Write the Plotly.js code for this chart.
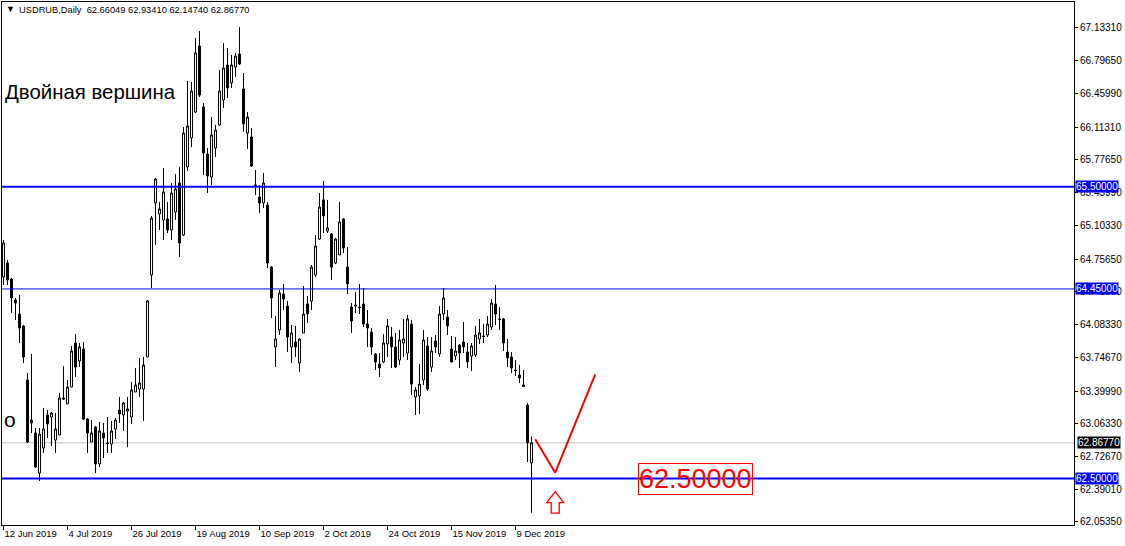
<!DOCTYPE html>
<html><head><meta charset="utf-8">
<script src="https://cdn.plot.ly/plotly-3.0.1.min.js"></script>
<style>html,body{margin:0;padding:0;background:#fff;}#chart{width:1125px;height:546px;}</style>
</head><body><div id="chart"></div>
<script>
// ---- data ----
const headerText = "USDRUB,Daily  62.66049 62.93410 62.14740 62.86770";
const openP = [64.573,64.717,64.552,64.336,64.192,64.069,63.514,63.102,62.969,62.557,
62.814,63.154,63.133,62.897,62.948,63.328,63.267,63.441,63.894,63.709,
63.832,63.112,62.876,63.030,62.650,62.969,62.866,62.855,63.010,63.205,
63.154,63.195,63.133,63.390,63.421,63.421,63.750,64.593,65.334,65.221,
65.159,65.169,65.056,65.241,65.539,65.004,65.704,66.002,66.269,66.948,
66.321,65.837,65.601,65.899,66.136,66.393,66.753,66.568,66.732,66.866,
66.506,66.053,66.012,65.519,65.395,65.334,65.313,64.675,63.853,64.028,
64.398,64.274,63.853,63.904,63.688,63.997,64.295,64.326,64.593,64.963,
65.365,65.046,65.015,64.717,64.799,65.169,64.675,64.264,64.285,64.264,
64.295,64.089,64.007,63.781,63.678,63.699,63.884,63.956,63.853,63.719,
63.894,63.791,64.089,63.339,63.349,63.514,63.863,63.647,63.914,63.781,
64.192,64.161,63.832,63.760,63.873,63.904,63.801,63.760,63.771,63.935,
63.966,63.976,64.058,64.295,64.141,64.141,63.801,63.750,63.616,63.565,
63.462,63.256,62.66049];
const highP = [64.953,64.747,64.562,64.357,64.388,64.079,63.585,63.781,63.020,63.020,
63.226,63.205,63.185,63.174,63.380,63.657,63.514,63.863,63.986,63.894,
63.904,63.123,63.102,63.041,63.082,63.071,63.133,63.092,63.123,63.339,
63.287,63.339,63.493,63.637,63.740,63.750,64.336,65.200,65.591,65.344,
65.693,65.344,65.539,65.632,65.704,66.115,66.588,66.578,67.030,67.102,
66.362,65.899,66.218,66.136,66.701,66.979,66.927,66.855,66.876,67.143,
66.670,66.269,66.105,65.673,65.519,65.642,65.344,64.686,64.172,64.439,
64.501,64.326,64.079,64.069,63.945,64.480,64.377,64.696,65.004,65.436,
65.560,65.365,65.025,64.974,65.344,65.179,64.881,64.305,64.418,64.501,
64.459,64.233,64.048,63.791,63.791,63.986,64.141,64.058,63.997,64.028,
64.141,64.182,64.130,63.441,63.678,64.028,63.956,63.956,63.976,64.274,
64.459,64.233,63.966,63.956,63.884,64.110,63.894,63.894,64.069,64.141,
64.089,64.172,64.346,64.490,64.264,64.151,63.935,63.801,63.719,63.668,
63.616,63.277,62.93410];
const lowP = [64.490,64.490,64.202,64.130,63.894,63.688,62.866,62.969,62.609,62.475,
62.763,62.917,62.835,62.763,62.948,63.308,63.267,63.441,63.544,63.647,
63.102,62.763,62.876,62.557,62.619,62.711,62.763,62.763,62.907,63.071,
62.989,62.824,63.061,63.390,63.339,63.092,63.750,64.459,64.902,65.056,
64.953,65.025,64.953,65.159,64.778,64.994,65.663,65.909,66.259,66.424,
65.622,65.436,65.519,65.807,66.125,66.310,66.413,66.516,66.629,66.753,
66.064,65.889,65.704,65.416,65.231,65.282,64.665,64.151,63.647,63.976,
64.233,63.801,63.688,63.750,63.596,63.997,64.100,64.233,64.573,64.953,
65.025,65.025,64.542,64.706,64.799,64.819,64.398,63.997,64.202,64.192,
64.058,63.853,63.771,63.616,63.544,63.688,63.750,63.637,63.637,63.668,
63.750,63.719,63.359,63.154,63.164,63.462,63.400,63.596,63.791,63.750,
64.130,63.976,63.699,63.719,63.637,63.791,63.637,63.606,63.750,63.884,
63.894,63.956,64.028,64.079,64.028,63.812,63.647,63.585,63.555,63.483,
63.441,62.670,62.14740];
const closeP = [64.922,64.542,64.357,64.305,64.048,63.750,62.876,63.071,62.619,62.958,
63.010,63.061,63.174,63.010,63.328,63.318,63.441,63.812,63.647,63.853,
63.112,62.969,62.969,62.650,62.989,62.917,62.861,62.989,63.102,63.164,
63.277,63.215,63.411,63.462,63.483,63.668,64.326,65.179,65.580,65.272,
65.447,65.056,65.436,65.478,64.922,66.053,66.125,66.485,66.876,66.444,
65.848,65.611,66.033,66.084,66.485,66.722,66.516,66.753,66.845,66.763,
66.146,66.218,65.714,65.514,65.334,65.539,64.717,64.357,63.935,64.408,
64.346,63.956,63.997,63.853,63.935,64.192,64.192,64.675,64.891,65.292,
65.200,65.077,64.675,64.963,65.138,64.871,64.501,64.120,64.274,64.259,
64.089,64.048,63.853,63.699,63.637,63.894,64.069,63.853,63.647,63.925,
63.935,64.141,63.472,63.411,63.472,63.925,63.421,63.812,63.853,64.192,
64.357,64.069,63.699,63.812,63.791,63.853,63.699,63.863,63.976,63.997,
63.961,64.089,64.305,64.192,64.136,63.894,63.740,63.637,63.611,63.534,
63.447,62.866,62.86770];
const dateTickIndex = [0,16,32,48,64,80,96,112,128];
const dateTickLabels = ["12 Jun 2019","4 Jul 2019","26 Jul 2019","19 Aug 2019","10 Sep 2019","2 Oct 2019","24 Oct 2019","15 Nov 2019","9 Dec 2019"];
const priceTicks = [67.13310,66.79650,66.45990,66.11310,65.77650,65.43990,65.10330,64.75650,64.41990,64.08330,63.74670,63.39990,63.06330,62.72670,62.39010,62.05350];
const levelPrices = [65.50000,64.45000,62.50000];
const levelWidths = [2,1,2];
const bidPrice = 62.86770;
const vLineX = [132.93,137.93,147.93];
const vLineY = [62.904,62.560,63.572];
const arrowPoint = [137.93,62.252];
const targetBox = [173.05,62.50000];
const targetText = "62.50000";
const titleText = "Двойная вершина";
const leftText = "о";

// ---- geometry ----
const W=1125,H=546, ML=2, MR=51, MT=2, MB=21;
const pxPerBar=4;
const xMin=-0.375, xMax=xMin+(W-ML-MR)/pxPerBar;
const pxPerUnit=97.25;
const yMax=67.4004, yMin=yMax-(H-MT-MB)/pxPerUnit;

const idx = openP.map((_,i)=>i);
const FONT="Liberation Sans, Arial, sans-serif";

const traces=[{
  type:'candlestick', x:idx, open:openP, high:highP, low:lowP, close:closeP,
  increasing:{line:{color:'#000',width:1},fillcolor:'#ffffff'},
  decreasing:{line:{color:'#000',width:1},fillcolor:'#000000'},
  whiskerwidth:0, hoverinfo:'skip', showlegend:false
},{
  type:'scatter', mode:'lines', x:vLineX, y:vLineY,
  line:{color:'#ff0000',width:2}, hoverinfo:'skip', showlegend:false
}];

const shapes=[];
shapes.push({type:'line',xref:'paper',x0:0,x1:1,yref:'y',y0:bidPrice,y1:bidPrice,line:{color:'#c0c0c0',width:1},layer:'below'});
levelPrices.forEach((p,k)=>shapes.push({type:'line',xref:'paper',x0:0,x1:1,yref:'y',y0:p,y1:p,line:{color:'#0000ff',width:levelWidths[k]}}));
shapes.push({type:'path',xref:'x',yref:'y',xsizemode:'pixel',ysizemode:'pixel',
  xanchor:arrowPoint[0],yanchor:arrowPoint[1],
  path:'M 0 11 L 8.5 0 L 4 0 L 4 -10.5 L -4 -10.5 L -4 0 L -8.5 0 Z',
  line:{color:'#ff0000',width:1.3},fillcolor:'#fff4f4'});

const annotations=[];
annotations.push({xref:'paper',yref:'paper',x:0,y:1,xanchor:'left',yanchor:'middle',xshift:2,yshift:-7,
  text:'▼',showarrow:false,font:{family:FONT,size:9,color:'#000'}});
annotations.push({xref:'paper',yref:'paper',x:0,y:1,xanchor:'left',yanchor:'middle',xshift:15,yshift:-8,
  text:headerText.replace(/ /g,'&nbsp;'),showarrow:false,font:{family:FONT,size:9.3,color:'#000'}});
annotations.push({xref:'paper',yref:'paper',x:0,y:1,xanchor:'left',yanchor:'middle',xshift:1,yshift:-(92-MT),
  text:titleText,showarrow:false,font:{family:FONT,size:20.4,color:'#000'}});
annotations.push({xref:'paper',yref:'paper',x:0,y:1,xanchor:'left',yanchor:'middle',xshift:0,yshift:-(419-MT),
  text:leftText,showarrow:false,font:{family:FONT,size:21,color:'#000'}});
levelPrices.forEach(p=>annotations.push({xref:'paper',yref:'y',x:1,y:p,xanchor:'left',yanchor:'middle',xshift:1,
  text:p.toFixed(5),showarrow:false,bgcolor:'#0000ff',borderpad:0,font:{family:FONT,size:10,color:'#fff'}}));
annotations.push({xref:'paper',yref:'y',x:1,y:bidPrice,xanchor:'left',yanchor:'middle',xshift:3,
  text:bidPrice.toFixed(5),showarrow:false,bgcolor:'#000',borderpad:0,font:{family:FONT,size:10,color:'#fff'}});
annotations.push({xref:'x',yref:'y',x:targetBox[0],y:targetBox[1],xanchor:'center',yanchor:'middle',
  text:targetText,showarrow:false,bordercolor:'#ff0000',borderwidth:1,borderpad:0,
  font:{family:FONT,size:27,color:'#ff0000'}});

const layout={
  width:W,height:H,margin:{l:ML,r:MR,t:MT,b:MB,pad:0},
  paper_bgcolor:'#fff',plot_bgcolor:'#fff',showlegend:false,
  boxgap:0.5, boxgroupgap:0,
  xaxis:{type:'linear',range:[xMin,xMax],rangeslider:{visible:false},showgrid:false,zeroline:false,
    showline:true,linecolor:'#000',linewidth:1,mirror:true,
    tickmode:'array',tickvals:dateTickIndex,ticktext:dateTickLabels,tickangle:0,
    ticks:'outside',ticklen:4,tickcolor:'#000',ticklabelposition:'outside right',
    tickfont:{family:FONT,size:9.5,color:'#000'},fixedrange:true},
  yaxis:{range:[yMin,yMax],side:'right',showgrid:false,zeroline:false,
    showline:true,linecolor:'#000',linewidth:1,mirror:true,
    tickmode:'array',tickvals:priceTicks,ticktext:priceTicks.map(v=>v.toFixed(5)),
    ticks:'outside',ticklen:3,tickcolor:'#000',
    tickfont:{family:FONT,size:10,color:'#000'},fixedrange:true},
  shapes:shapes, annotations:annotations
};
Plotly.newPlot('chart',traces,layout,{displayModeBar:false,staticPlot:true});
</script></body></html>
